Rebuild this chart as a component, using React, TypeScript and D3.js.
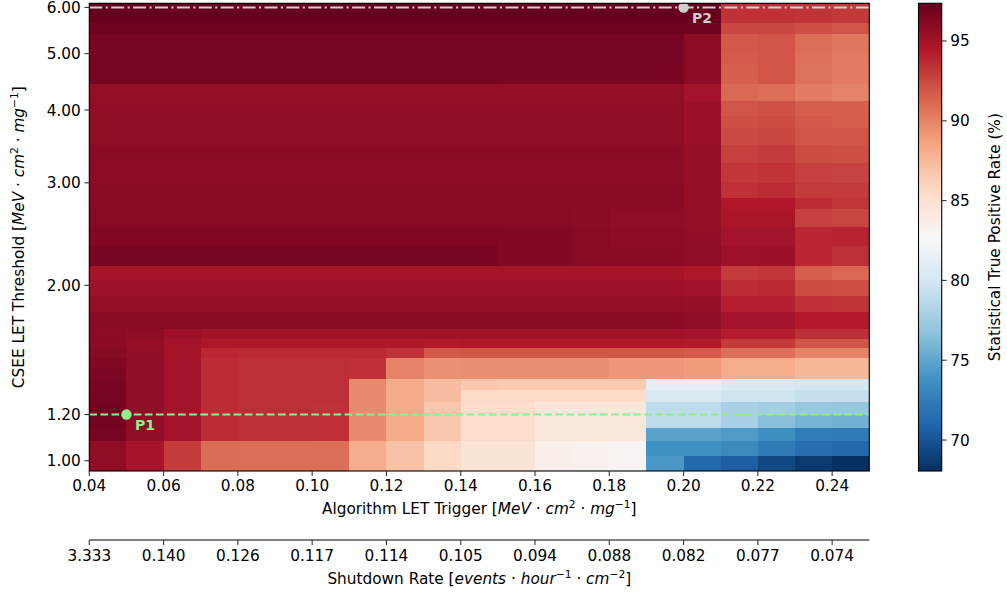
import React from 'react';
import * as d3 from 'd3';

// column edges of the trigger grid (x)
const triggerEdges = [0.04, 0.05, 0.06, 0.07, 0.08, 0.09, 0.1, 0.11, 0.12, 0.13, 0.14, 0.15, 0.16, 0.17, 0.18, 0.19, 0.2, 0.21, 0.22, 0.23, 0.24, 0.25];

// row edges of the CSEE threshold grid (y), bottom -> top
const thresholdEdges = [0.96, 1.02, 1.08, 1.14, 1.2, 1.26, 1.32, 1.38, 1.44, 1.5, 1.56, 1.62, 1.68, 1.8, 1.92, 2.04, 2.16, 2.34, 2.52, 2.7, 2.82, 3.0, 3.24, 3.48, 3.72, 3.9, 4.14, 4.44, 4.8, 5.04, 5.4, 5.64, 6.1];

// statistical true positive rate (%), one row per threshold band, bottom -> top
const tprRows = [
  [95.8, 94.9, 93.0, 91.0, 90.9, 90.9, 90.9, 88.1, 87.0, 85.7, 84.7, 84.7, 83.5, 83.4, 83.1, 74.2, 71.2, 70.6, 69.4, 68.6, 68.06],
  [95.8, 94.9, 93.0, 91.0, 90.9, 90.9, 90.9, 88.1, 87.0, 85.7, 84.7, 84.7, 83.5, 83.4, 83.1, 73.7, 73.7, 73.3, 72.3, 71.6, 71.2],
  [96.8, 95.8, 95.0, 93.6, 93.5, 93.5, 93.4, 89.7, 88.3, 86.7, 85.3, 85.3, 84.4, 84.4, 84.4, 74.8, 74.8, 74.4, 73.6, 72.4, 72.3],
  [96.9, 95.8, 95.0, 93.6, 93.5, 93.5, 93.4, 89.7, 88.3, 86.7, 85.4, 85.4, 84.4, 84.4, 84.4, 78.9, 78.9, 77.9, 76.5, 75.9, 75.6],
  [96.9, 95.8, 95.0, 93.6, 93.5, 93.5, 93.4, 89.7, 88.3, 86.7, 85.4, 85.4, 84.4, 84.4, 84.4, 78.9, 78.9, 77.9, 77.7, 77.1, 77.0],
  [96.8, 95.8, 95.0, 93.6, 93.5, 93.5, 93.5, 89.7, 88.3, 87.3, 85.6, 85.6, 85.5, 85.5, 85.5, 80.4, 80.4, 79.8, 79.8, 79.2, 79.2],
  [96.7, 95.8, 95.0, 93.6, 93.5, 93.5, 93.5, 89.7, 88.3, 87.3, 86.7, 86.6, 86.6, 86.6, 86.6, 81.3, 81.3, 80.5, 80.5, 80.1, 80.1],
  [96.5, 95.8, 95.0, 93.6, 93.5, 93.5, 93.5, 93.4, 90.0, 89.4, 89.5, 89.5, 89.5, 89.5, 89.2, 89.2, 89.0, 88.2, 88.2, 87.6, 87.6],
  [96.4, 95.8, 95.0, 93.6, 93.5, 93.5, 93.5, 93.4, 90.0, 89.4, 89.5, 89.5, 89.5, 89.5, 89.2, 89.2, 89.0, 88.2, 88.2, 87.6, 87.6],
  [96.2, 95.7, 94.9, 93.8, 93.7, 93.7, 93.7, 93.7, 93.4, 91.8, 91.9, 91.9, 91.9, 91.9, 91.9, 91.9, 91.7, 90.8, 90.8, 90.0, 90.0],
  [96.0, 95.6, 95.0, 94.6, 94.6, 94.6, 94.6, 94.6, 94.5, 94.4, 94.5, 94.5, 94.5, 94.5, 94.5, 94.5, 94.4, 93.0, 93.0, 92.0, 92.0],
  [95.9, 95.8, 95.3, 95.1, 95.1, 95.1, 95.1, 95.1, 95.1, 95.1, 95.1, 95.1, 95.1, 95.1, 95.1, 95.1, 95.0, 94.3, 94.3, 93.5, 93.5],
  [96.0, 96.0, 96.0, 96.0, 96.0, 96.0, 96.0, 96.0, 96.0, 96.0, 96.0, 96.0, 96.0, 96.0, 96.0, 96.0, 95.8, 95.0, 95.0, 94.4, 94.4],
  [95.6, 95.6, 95.6, 95.6, 95.6, 95.6, 95.6, 95.6, 95.6, 95.6, 95.6, 95.6, 95.6, 95.6, 95.6, 95.6, 95.5, 94.2, 94.2, 93.4, 93.3],
  [95.2, 95.2, 95.2, 95.2, 95.2, 95.2, 95.2, 95.2, 95.2, 95.2, 95.2, 95.2, 95.2, 95.2, 95.2, 95.2, 95.1, 93.6, 93.7, 92.3, 92.2],
  [94.9, 94.9, 94.9, 94.9, 94.9, 94.9, 94.9, 94.9, 94.9, 94.9, 94.9, 94.9, 94.9, 94.9, 94.9, 94.9, 94.6, 93.0, 93.2, 91.6, 91.2],
  [96.7, 96.7, 96.7, 96.7, 96.7, 96.7, 96.7, 96.7, 96.7, 96.7, 96.7, 96.3, 96.3, 96.1, 96.0, 96.0, 95.8, 95.2, 95.3, 93.8, 93.5],
  [96.4, 96.4, 96.4, 96.4, 96.4, 96.4, 96.4, 96.4, 96.4, 96.4, 96.4, 96.3, 96.3, 96.1, 95.9, 95.9, 95.7, 95.0, 95.0, 93.8, 94.0],
  [96.1, 96.1, 96.1, 96.1, 96.1, 96.1, 96.1, 96.1, 96.1, 96.1, 96.1, 96.1, 96.1, 96.0, 95.8, 95.8, 95.6, 94.8, 94.8, 92.8, 92.6],
  [96.0, 96.0, 96.0, 96.0, 96.0, 96.0, 96.0, 96.0, 96.0, 96.0, 96.0, 96.0, 96.0, 96.0, 96.0, 96.0, 95.6, 94.5, 94.5, 93.6, 93.2],
  [96.0, 96.0, 96.0, 96.0, 96.0, 96.0, 96.0, 96.0, 96.0, 96.0, 96.0, 96.0, 96.0, 96.0, 96.0, 96.0, 95.6, 93.4, 93.6, 93.0, 93.0],
  [95.9, 95.9, 95.9, 95.9, 95.9, 95.9, 95.9, 95.9, 95.9, 95.9, 95.9, 95.9, 95.9, 95.9, 95.9, 95.9, 95.5, 93.2, 93.3, 92.8, 92.7],
  [96.0, 96.0, 96.0, 96.0, 96.0, 96.0, 96.0, 96.0, 96.0, 96.0, 96.0, 96.0, 96.0, 96.0, 96.0, 96.0, 95.5, 92.8, 93.0, 92.3, 92.2],
  [95.8, 95.8, 95.8, 95.8, 95.8, 95.8, 95.8, 95.8, 95.8, 95.8, 95.8, 95.8, 95.8, 95.8, 95.8, 95.8, 95.4, 92.4, 92.5, 92.0, 91.9],
  [95.8, 95.8, 95.8, 95.8, 95.8, 95.8, 95.8, 95.8, 95.8, 95.8, 95.8, 95.8, 95.8, 95.8, 95.8, 95.8, 95.3, 92.2, 92.3, 91.8, 91.6],
  [95.7, 95.7, 95.7, 95.7, 95.7, 95.7, 95.7, 95.7, 95.7, 95.7, 95.7, 95.7, 95.7, 95.7, 95.7, 95.7, 95.3, 92.0, 92.1, 91.6, 91.5],
  [95.6, 95.6, 95.6, 95.6, 95.6, 95.6, 95.6, 95.6, 95.6, 95.6, 95.6, 95.6, 95.6, 95.6, 95.6, 95.6, 95.0, 91.1, 90.9, 90.3, 90.0],
  [96.8, 96.8, 96.8, 96.8, 96.8, 96.8, 96.8, 96.8, 96.8, 96.8, 96.8, 96.7, 96.7, 96.7, 96.7, 96.6, 95.9, 91.5, 91.9, 90.7, 90.3],
  [96.8, 96.8, 96.8, 96.8, 96.8, 96.8, 96.8, 96.8, 96.8, 96.8, 96.8, 96.7, 96.7, 96.7, 96.7, 96.7, 95.9, 91.7, 92.0, 90.8, 90.4],
  [96.7, 96.7, 96.7, 96.7, 96.7, 96.7, 96.7, 96.7, 96.7, 96.7, 96.7, 96.7, 96.7, 96.7, 96.7, 96.7, 95.9, 91.8, 92.0, 90.9, 90.5],
  [97.0, 97.0, 97.0, 97.0, 97.0, 97.0, 97.0, 97.0, 97.0, 97.0, 97.0, 97.0, 97.0, 97.0, 97.0, 97.0, 97.0, 92.5, 92.5, 92.2, 92.0],
  [97.36, 97.36, 97.36, 97.36, 97.36, 97.36, 97.36, 97.36, 97.36, 97.36, 97.36, 97.36, 97.36, 97.36, 97.36, 97.36, 97.36, 93.4, 93.4, 93.3, 93.1],
];

const xTicks = [0.04, 0.06, 0.08, 0.1, 0.12, 0.14, 0.16, 0.18, 0.2, 0.22, 0.24];
const shutdownLabels = ['3.333', '0.140', '0.126', '0.117', '0.114', '0.105', '0.094', '0.088', '0.082', '0.077', '0.074'];
const yTicks = [1, 1.2, 2, 3, 4, 5, 6];
const cbarTicks = [70, 75, 80, 85, 90, 95];

const operatingPoints = [
  { name: 'P1', trigger: 0.05, threshold: 1.2, color: '#90ee90', dash: '7.7,3.4' },
  { name: 'P2', trigger: 0.2, threshold: 6.0, color: '#cfcfcf', dash: '13,3.4,2.1,3.4' },
];

const W = 1007;
const H = 593;
const box = { left: 89.3, right: 869.3, top: 3.3, bottom: 471 };
const cbar = { left: 918.5, right: 941.7 };
const FS = 15.3;
const FONT = '"DejaVu Sans", sans-serif';

type Seg = { t: string; it?: boolean; sup?: boolean };

// crude mathtext: italics + superscripts
const mathSpans = (parts: Seg[], fs: number) => {
  let up = false;
  return parts.map((p, k) => {
    let dy: number | undefined;
    if (p.sup && !up) { dy = -0.42 * fs; up = true; }
    else if (!p.sup && up) { dy = 0.42 * fs; up = false; }
    return (
      <tspan key={k} dy={dy} fontStyle={p.it ? 'italic' : undefined} fontSize={p.sup ? fs * 0.7 : undefined}>
        {p.t}
      </tspan>
    );
  });
};

const letUnit: Seg[] = [
  { t: 'MeV', it: true }, { t: ' · ' }, { t: 'cm', it: true }, { t: '2', sup: true },
  { t: ' · ' }, { t: 'mg', it: true }, { t: '−1', sup: true },
];

const App = () => {
  const x = d3.scaleLinear()
    .domain([triggerEdges[0], triggerEdges[triggerEdges.length - 1]])
    .range([box.left, box.right]);
  const y = d3.scaleLog()
    .domain([thresholdEdges[0], thresholdEdges[thresholdEdges.length - 1]])
    .range([box.bottom, box.top]);

  const [vmin, vmax] = d3.extent(tprRows.flat()) as [number, number];
  // RdBu_r, linear between the 11 brewer stops (like matplotlib)
  const rdbuR = d3.piecewise(d3.interpolateRgb, [...d3.schemeRdBu[11]].reverse());
  const color = d3.scaleSequential(rdbuR).domain([vmin, vmax]);
  const cy = d3.scaleLinear().domain([vmin, vmax]).range([box.bottom, box.top]);

  const cells: JSX.Element[] = [];
  tprRows.forEach((row, i) => {
    row.forEach((v, j) => {
      const x0 = x(triggerEdges[j]);
      const x1 = x(triggerEdges[j + 1]);
      const y0 = y(thresholdEdges[i + 1]);
      const y1 = y(thresholdEdges[i]);
      cells.push(
        <rect key={`${i}-${j}`} x={x0} y={y0} width={x1 - x0} height={y1 - y0} fill={color(v)} shapeRendering="crispEdges" />
      );
    });
  });

  const gradStops = d3.range(0, 1.0001, 0.025);
  const secAxisY = 540;

  return (
    <svg width={W} height={H} style={{ position: 'absolute', left: 0, top: 0, background: '#fff' }} fontFamily={FONT} fontSize={FS}>
      <defs>
        <linearGradient id="cbarGrad" x1="0" y1="1" x2="0" y2="0">
          {gradStops.map((t) => (
            <stop key={t} offset={t} stopColor={color(vmin + t * (vmax - vmin))} />
          ))}
        </linearGradient>
        <clipPath id="plotClip">
          <rect x={box.left} y={box.top} width={box.right - box.left} height={box.bottom - box.top} />
        </clipPath>
      </defs>

      {/* heatmap */}
      <g>{cells}</g>

      {/* operating points */}
      <g clipPath="url(#plotClip)">
        {operatingPoints.map((p) => (
          <line key={p.name} x1={box.left} x2={box.right} y1={y(p.threshold)} y2={y(p.threshold)}
            stroke={p.color} strokeWidth={2.1} strokeDasharray={p.dash} />
        ))}
      </g>
      {operatingPoints.map((p) => (
        <g key={p.name + 'm'}>
          <circle cx={x(p.trigger)} cy={y(p.threshold)} r={5.2} fill={p.color} />
          <text x={x(p.trigger) + 8.5} y={y(p.threshold) + 15.5} fill={p.color} fontWeight="bold" fontSize={14}>
            {p.name}
          </text>
        </g>
      ))}

      {/* frame */}
      <rect x={box.left} y={box.top} width={box.right - box.left} height={box.bottom - box.top}
        fill="none" stroke="#000" strokeWidth={1.1} />

      {/* x axis */}
      {xTicks.map((v) => (
        <g key={v} transform={`translate(${x(v)},0)`}>
          <line y1={box.bottom} y2={box.bottom + 4.9} stroke="#333" strokeWidth={1.1} />
          <text y={box.bottom + 20} textAnchor="middle">{v.toFixed(2)}</text>
        </g>
      ))}
      <text x={(box.left + box.right) / 2} y={514} textAnchor="middle">
        <tspan>Algorithm LET Trigger [</tspan>
        {mathSpans([...letUnit, { t: ']' }], FS)}
      </text>

      {/* secondary x axis */}
      <line x1={box.left} x2={box.right} y1={secAxisY} y2={secAxisY} stroke="#000" strokeWidth={1.1} />
      {xTicks.map((v, k) => (
        <g key={'s' + v} transform={`translate(${x(v)},0)`}>
          <line y1={secAxisY} y2={secAxisY + 4.9} stroke="#333" strokeWidth={1.1} />
          <text y={secAxisY + 21} textAnchor="middle">{shutdownLabels[k]}</text>
        </g>
      ))}
      <text x={(box.left + box.right) / 2} y={584} textAnchor="middle">
        <tspan>Shutdown Rate [</tspan>
        {mathSpans([
          { t: 'events', it: true }, { t: ' · ' }, { t: 'hour', it: true }, { t: '−1', sup: true },
          { t: ' · ' }, { t: 'cm', it: true }, { t: '−2', sup: true }, { t: ']' },
        ], FS)}
      </text>

      {/* y axis */}
      {yTicks.map((v) => (
        <g key={v} transform={`translate(0,${y(v)})`}>
          <line x1={box.left} x2={box.left - 4.9} stroke="#333" strokeWidth={1.1} />
          <text x={box.left - 8.5} y={5.5} textAnchor="end">{v.toFixed(2)}</text>
        </g>
      ))}
      <text transform={`translate(24,${(box.top + box.bottom) / 2}) rotate(-90)`} textAnchor="middle">
        <tspan>CSEE LET Threshold [</tspan>
        {mathSpans([...letUnit, { t: ']' }], FS)}
      </text>

      {/* colorbar */}
      <rect x={cbar.left} y={box.top} width={cbar.right - cbar.left} height={box.bottom - box.top}
        fill="url(#cbarGrad)" stroke="#000" strokeWidth={1.1} />
      {cbarTicks.map((v) => (
        <g key={v} transform={`translate(0,${cy(v)})`}>
          <line x1={cbar.right} x2={cbar.right + 4.9} stroke="#333" strokeWidth={1.1} />
          <text x={cbar.right + 8.5} y={5.5}>{v}</text>
        </g>
      ))}
      <text transform={`translate(999.5,${(box.top + box.bottom) / 2}) rotate(-90)`} textAnchor="middle">
        Statistical True Positive Rate (%)
      </text>
    </svg>
  );
};

export default App;
